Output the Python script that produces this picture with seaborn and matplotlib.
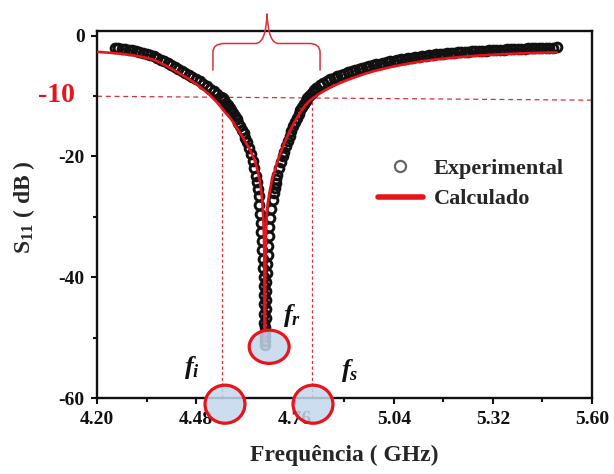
import matplotlib
matplotlib.use("Agg")
import matplotlib.pyplot as plt
import seaborn as sns
import pandas as pd
from matplotlib.lines import Line2D
from matplotlib.patches import Ellipse, PathPatch
from matplotlib.path import Path
from matplotlib.ticker import MultipleLocator, FormatStrFormatter
import matplotlib.transforms as mtransforms

# ---------------- data ----------------
exp_freq = [
    4.25, 4.26, 4.27, 4.28, 4.29, 4.30, 4.31, 4.32, 4.33, 4.34,
    4.35, 4.36, 4.37, 4.38, 4.39, 4.40, 4.41, 4.42, 4.43, 4.44,
    4.45, 4.46, 4.47, 4.48, 4.49, 4.50, 4.51, 4.52, 4.53, 4.54,
    4.55, 4.555, 4.56, 4.565, 4.57, 4.575, 4.58, 4.585, 4.59, 4.595,
    4.60, 4.605, 4.61, 4.615, 4.62, 4.625, 4.63, 4.635, 4.64, 4.645,
    4.65, 4.6525, 4.655, 4.657,
    4.6583, 4.6610, 4.6632, 4.6651, 4.6667, 4.6680, 4.6692, 4.6701,
    4.6710, 4.6717, 4.6723, 4.6728, 4.6732, 4.6737, 4.6741, 4.6745,
    4.6750,
    4.6759, 4.6764, 4.6768, 4.6774, 4.6779, 4.6786, 4.6794, 4.6803,
    4.6813, 4.6826, 4.6840, 4.6858, 4.6878, 4.6903, 4.6932, 4.6967,
    4.70, 4.7025, 4.705, 4.7075, 4.71, 4.715, 4.72, 4.725, 4.73, 4.735,
    4.74, 4.745, 4.75, 4.755, 4.76, 4.765, 4.77, 4.775, 4.78, 4.785,
    4.79, 4.795, 4.80, 4.805, 4.81, 4.815, 4.82, 4.83, 4.84, 4.85,
    4.86, 4.87, 4.88, 4.89, 4.90, 4.91, 4.92, 4.93, 4.94, 4.95,
    4.96, 4.97, 4.98, 4.99, 5.00, 5.01, 5.02, 5.03, 5.04, 5.05,
    5.06, 5.07, 5.08, 5.09, 5.10, 5.11, 5.12, 5.13, 5.14, 5.15,
    5.16, 5.17, 5.18, 5.19, 5.20, 5.21, 5.22, 5.23, 5.24, 5.25,
    5.26, 5.27, 5.28, 5.29, 5.30, 5.31, 5.32, 5.33, 5.34, 5.35,
    5.36, 5.37, 5.38, 5.39, 5.40, 5.41, 5.42, 5.43, 5.44, 5.45,
    5.46, 5.47, 5.48, 5.49, 5.50,
]
exp_s11 = [
    -2.00, -2.07, -2.15, -2.24, -2.34, -2.45, -2.57, -2.71, -2.87, -3.05,
    -3.25, -3.47, -3.71, -3.97, -4.25, -4.54, -4.84, -5.15, -5.47, -5.80,
    -6.14, -6.49, -6.85, -7.22, -7.60, -7.98, -8.38, -8.79, -9.21, -9.65,
    -10.10, -10.40, -10.75, -11.15, -11.55, -11.95, -12.40, -12.85, -13.35, -13.85,
    -14.40, -14.95, -15.55, -16.20, -16.90, -17.70, -18.60, -19.60, -20.70, -21.90,
    -23.30, -24.30, -25.40, -26.60,
    -28.0, -29.5, -31.0, -32.5, -34.0, -35.5, -37.0, -38.5,
    -40.0, -41.5, -43.0, -44.5, -46.0, -47.5, -49.0, -50.5,
    -51.2,
    -49.75, -48.25, -46.75, -45.25, -43.75, -42.25, -40.75, -39.25,
    -37.75, -36.25, -34.75, -33.25, -31.75, -30.25, -28.75, -27.25,
    -26.0, -25.2, -24.4, -23.7, -23.0, -21.9, -20.9, -20.0, -19.2, -18.3,
    -17.4, -16.55, -15.75, -15.0, -14.3, -13.65, -13.0, -12.4, -11.85, -11.3,
    -10.8, -10.4, -10.0, -9.65, -9.3, -8.95, -8.65, -8.15, -7.8, -7.5,
    -7.25, -7.0, -6.75, -6.52, -6.3, -6.1, -5.9, -5.72, -5.55, -5.38,
    -5.22, -5.07, -4.92, -4.78, -4.64, -4.5, -4.37, -4.25, -4.14, -4.03,
    -3.93, -3.83, -3.74, -3.65, -3.57, -3.49, -3.41, -3.34, -3.27, -3.2,
    -3.14, -3.08, -3.02, -2.96, -2.91, -2.86, -2.81, -2.76, -2.72, -2.68,
    -2.64, -2.6, -2.56, -2.52, -2.48, -2.45, -2.42, -2.39, -2.36, -2.33,
    -2.3, -2.27, -2.24, -2.21, -2.18, -2.16, -2.14, -2.12, -2.1, -2.08,
    -2.06, -2.04, -2.02, -2.0, -1.98,
]

calc_freq = [
    4.20, 4.22, 4.24, 4.26, 4.28, 4.30, 4.32, 4.34, 4.36, 4.38,
    4.40, 4.42, 4.44, 4.46, 4.48, 4.50, 4.52, 4.53, 4.54, 4.55,
    4.56, 4.57, 4.58, 4.59, 4.60, 4.61, 4.62, 4.63, 4.64, 4.645,
    4.65, 4.655, 4.66, 4.665, 4.668, 4.67, 4.672, 4.673, 4.674, 4.6745,
    4.675, 4.6755, 4.676, 4.677, 4.678, 4.680, 4.683, 4.688, 4.695, 4.70,
    4.71, 4.72, 4.73, 4.74, 4.75, 4.76, 4.77, 4.78, 4.79, 4.80,
    4.81, 4.82, 4.83, 4.84, 4.86, 4.88, 4.90, 4.92, 4.94, 4.96,
    4.98, 5.00, 5.04, 5.08, 5.12, 5.16, 5.20, 5.24, 5.28, 5.32,
    5.36, 5.40, 5.44, 5.48, 5.50,
]
calc_s11 = [
    -2.70, -2.78, -2.87, -2.97, -3.10, -3.25, -3.45, -3.70, -4.00, -4.55,
    -5.15, -5.80, -6.50, -7.20, -8.00, -8.90, -9.90, -10.50, -11.10, -11.80,
    -12.55, -13.20, -13.90, -14.80, -15.70, -16.60, -17.60, -18.60, -19.80, -20.50,
    -21.40, -22.50, -23.90, -25.90, -27.80, -29.80, -32.80, -35.00, -39.00, -42.00,
    -50.80, -42.00, -39.00, -35.00, -32.80, -29.80, -27.80, -25.90, -23.90, -22.90,
    -21.00, -19.30, -17.80, -16.50, -15.30, -14.20, -13.20, -12.30, -11.50, -10.90,
    -10.40, -10.00, -9.60, -9.25, -8.60, -8.05, -7.55, -7.10, -6.70, -6.30,
    -5.95, -5.65, -5.10, -4.65, -4.25, -3.95, -3.70, -3.50, -3.32, -3.18,
    -3.06, -2.96, -2.88, -2.82, -2.80,
]

x_ticks = [4.20, 4.48, 4.76, 5.04, 5.32, 5.60]
y_ticks = [0, -20, -40, -60]
legend_labels = ["Experimental", "Calculado"]
f_i, f_s = 4.553, 4.808
ref_level = -10

# ---------------- style ----------------
sns.set_theme(style="ticks")
plt.rcParams.update({
    "font.family": ["Liberation Serif", "DejaVu Serif"],
    "font.weight": "bold",
    "axes.labelweight": "bold",
    "axes.unicode_minus": False,
    "mathtext.fontset": "custom",
    "mathtext.rm": "Liberation Serif:bold",
    "mathtext.bf": "Liberation Serif:bold",
    "mathtext.it": "Liberation Serif:italic:bold",
    "mathtext.bfit": "Liberation Serif:italic:bold",
    "axes.linewidth": 1.7,
    "axes.edgecolor": "#111111",
    "xtick.major.width": 1.5, "ytick.major.width": 1.5,
    "xtick.minor.width": 1.5, "ytick.minor.width": 1.5,
    "xtick.major.size": 4, "ytick.major.size": 4,
    "xtick.minor.size": 3, "ytick.minor.size": 3,
    "xtick.direction": "out", "ytick.direction": "out",
    "xtick.color": "#111111", "ytick.color": "#111111",
})

RED = "#e8141b"
DASH_RED = "#d8303c"

fig = plt.figure(figsize=(6.14, 4.74), dpi=100)
ax = fig.add_axes([0.158, 0.160, 0.806, 0.774])

df_exp = pd.DataFrame({"freq": exp_freq, "s11": exp_s11})
df_calc = pd.DataFrame({"freq": calc_freq, "s11": calc_s11})

sns.lineplot(data=df_exp, x="freq", y="s11", ax=ax, estimator=None, sort=False,
             linestyle="none", marker="o", markersize=6.3,
             markerfacecolor="none", markeredgecolor="#111111",
             markeredgewidth=2.1, zorder=3)
sns.lineplot(data=df_calc, x="freq", y="s11", ax=ax, estimator=None, sort=False,
             color=RED, linewidth=1.9, zorder=4)

ax.set_xlim(4.20, 5.60)
ax.set_ylim(-60, 0.7)
ax.set_xticks(x_ticks)
ax.xaxis.set_minor_locator(MultipleLocator(0.14))
ax.xaxis.set_major_formatter(FormatStrFormatter("%.2f"))
ax.set_yticks(y_ticks)
ax.yaxis.set_minor_locator(MultipleLocator(10))
ax.tick_params(axis="both", which="major", labelsize=14, pad=5)
for lab in ax.get_xticklabels() + ax.get_yticklabels():
    lab.set_fontweight("bold")

ax.set_xlabel("Frequência ( GHz)", fontsize=17, fontweight="bold")
ax.set_ylabel(r"S$_{\mathbf{11}}$ ( dB )", fontsize=17, fontweight="bold")
ax.xaxis.set_label_coords(0.5, -0.128)
ax.yaxis.set_label_coords(-0.122, 0.52)

# red -10 label
trans = mtransforms.blended_transform_factory(ax.transAxes, ax.transData)
ax.text(-0.044, ref_level, "-10", transform=trans, ha="right", va="center",
        color=RED, fontsize=20, fontweight="bold")

# dashed guide lines
ax.plot([4.20, 5.60], [ref_level - 0.05, ref_level - 0.7], color=DASH_RED,
        lw=0.9, ls=(0, (4, 3)), zorder=2)
for fx in (f_i, f_s):
    ax.plot([fx, fx], [ref_level, -60], color=DASH_RED, lw=0.9,
            ls=(0, (2.5, 2)), zorder=2)

# highlight circles
for (cx, cy, w, h) in [(4.562, -61.0, 0.113, 6.3), (4.811, -61.0, 0.113, 6.3),
                       (4.687, -51.5, 0.113, 5.5)]:
    ax.add_patch(Ellipse((cx, cy), w, h, facecolor="#c4d8ee", alpha=0.85,
                         edgecolor="none", clip_on=False, zorder=8))
    ax.add_patch(Ellipse((cx, cy), w, h, facecolor="none", edgecolor=RED,
                         lw=2.3, clip_on=False, zorder=9))

# f labels
ax.text(4.751, -46.3, r"$\mathbfit{f}_{\mathbfit{r}}$", fontsize=19,
        ha="center", va="center", color="#111111", zorder=10)
ax.text(4.469, -55.0, r"$\mathbfit{f}_{\mathbfit{i}}$", fontsize=19,
        ha="center", va="center", color="#111111", zorder=10)
ax.text(4.915, -55.5, r"$\mathbfit{f}_{\mathbfit{s}}$", fontsize=19,
        ha="center", va="center", color="#111111", zorder=10)

# curly brace over the band
verts = [(4.528, -5.8), (4.528, -2.8),
         (4.528, -1.32), (4.56, -1.32),
         (4.648, -1.32),
         (4.678, -1.32), (4.681, 3.6),
         (4.684, -1.32), (4.714, -1.32),
         (4.80, -1.32),
         (4.831, -1.32), (4.831, -2.8),
         (4.831, -5.8)]
codes = [Path.MOVETO, Path.LINETO,
         Path.CURVE3, Path.CURVE3,
         Path.LINETO,
         Path.CURVE3, Path.CURVE3,
         Path.CURVE3, Path.CURVE3,
         Path.LINETO,
         Path.CURVE3, Path.CURVE3,
         Path.LINETO]
ax.add_patch(PathPatch(Path(verts, codes), facecolor="none", edgecolor=DASH_RED,
                       lw=1.1, clip_on=False, zorder=5))

# legend
handles = [Line2D([], [], marker="o", linestyle="none", markersize=8,
                  markerfacecolor="white", markeredgecolor="#666666",
                  markeredgewidth=1.6),
           Line2D([], [], color=RED, linewidth=4)]
leg = ax.legend(handles, legend_labels, loc="center left",
                bbox_to_anchor=(0.568, 0.584), frameon=False,
                prop={"family": "Liberation Serif", "weight": "bold", "size": 16},
                handlelength=2.0, handletextpad=0.5, labelspacing=0.45,
                borderpad=0, borderaxespad=0)

for sp in ax.spines.values():
    sp.set_visible(True)

fig.savefig("out.png", dpi=100, facecolor="white")
